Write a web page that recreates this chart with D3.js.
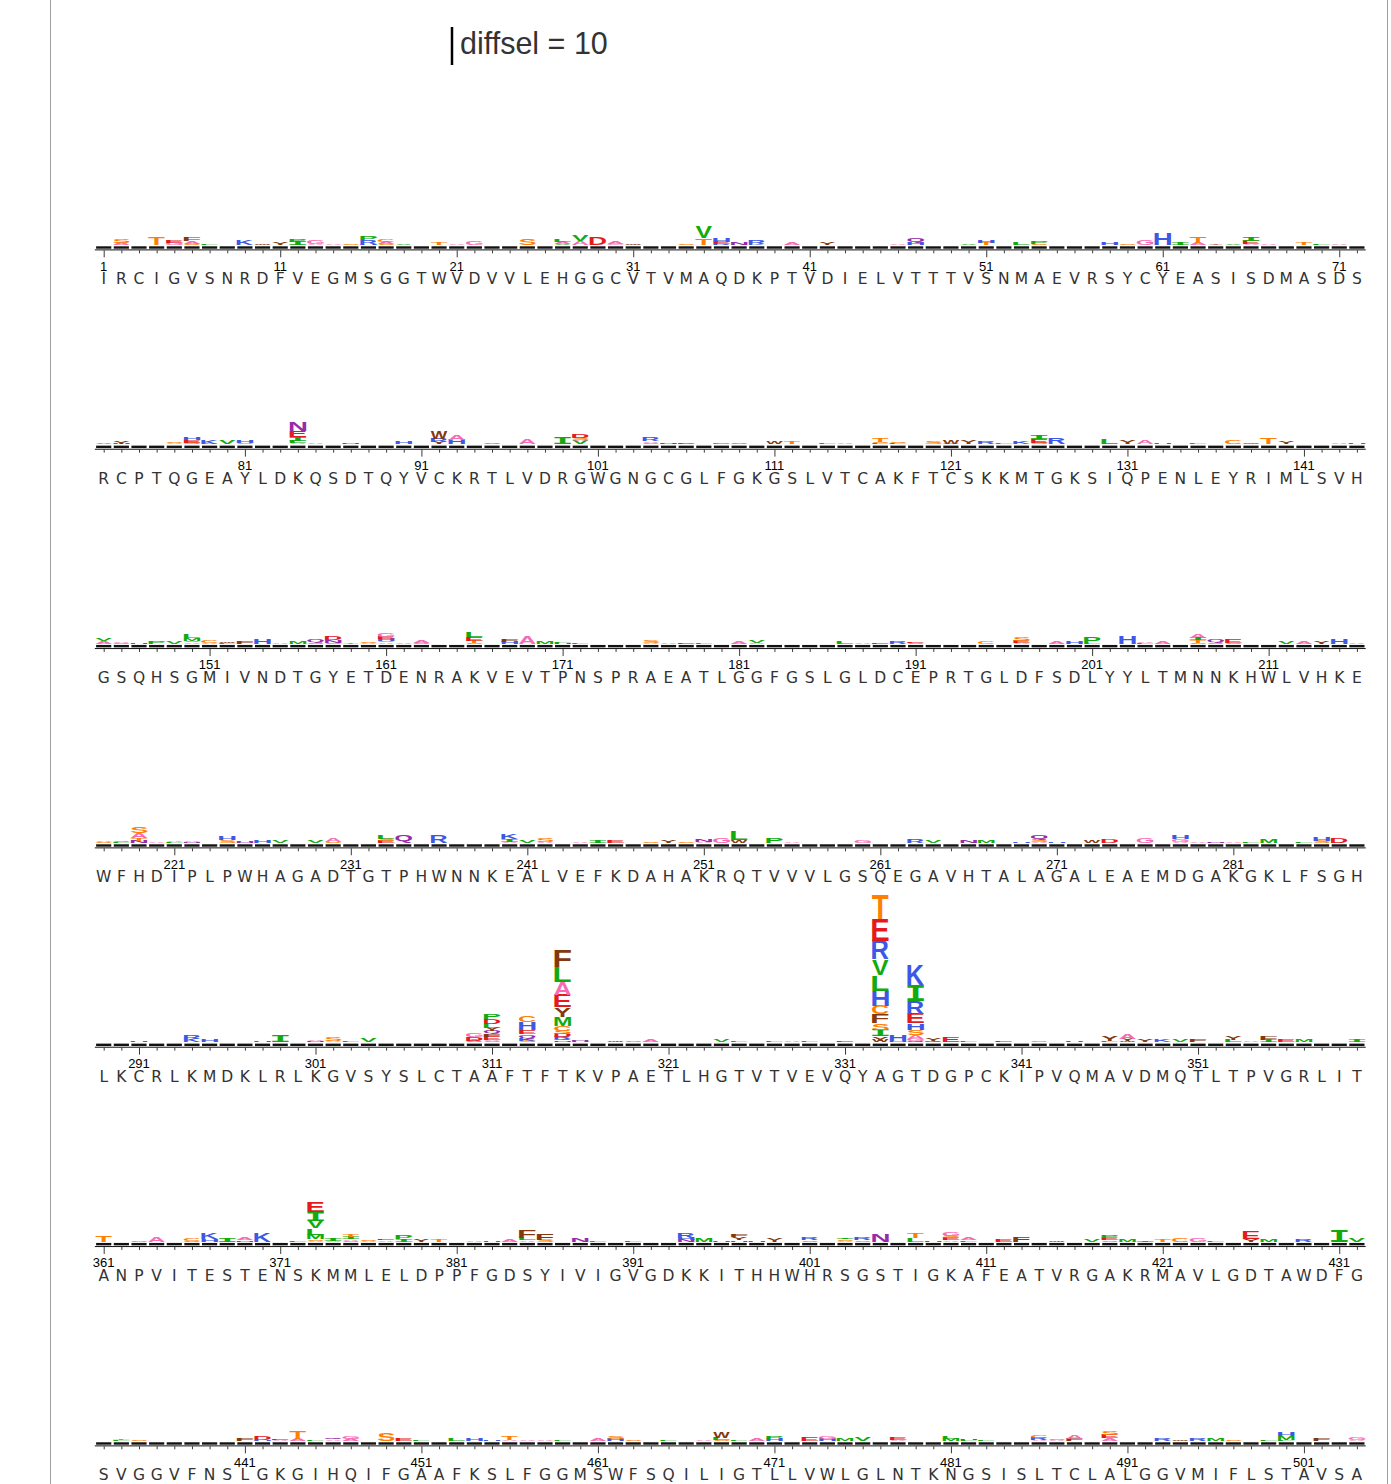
<!DOCTYPE html>
<html><head><meta charset="utf-8">
<script src="https://cdn.jsdelivr.net/npm/d3@7"></script>
<style>body{margin:0;background:#fff}</style>
</head><body>
<svg id="chart" width="1391" height="1484"></svg>
<script>
// ---------------- DATA ----------------
const titleText = "diffsel = 10";
const scaleBarValue = 10;
const rowStarts = [1, 73, 145, 217, 289, 361, 433];
const wildtypeRows = [
  "IRCIGVSNRDFVEGMSGGTWVDVVLEHGGCVTVMAQDKPTVDIELVTTTVSNMAEVRSYCYEASISDMASDS",
  "RCPTQGEAYLDKQSDTQYVCKRTLVDRGWGNGCGLFGKGSLVTCAKFTCSKKMTGKSIQPENLEYRIMLSVH",
  "GSQHSGMIVNDTGYETDENRAKVEVTPNSPRAEATLGGFGSLGLDCEPRTGLDFSDLYYLTMNNKHWLVHKE",
  "WFHDIPLPWHAGADTGTPHWNNKEALVEFKDAHAKRQTVVVLGSQEGAVHTALAGALEAEMDGAKGKLFSGH",
  "LKCRLKMDKLRLKGVSYSLCTAAFTFTKVPAETLHGTVTVEVQYAGTDGPCKIPVQMAVDMQTLTPVGRLIT",
  "ANPVITESTENSKMMLELDPPFGDSYIVIGVGDKKITHHWHRSGSTIGKAFEATVRGAKRMAVLGDTAWDFG",
  "SVGGVFNSLGKGIHQIFGAAFKSLFGGMSWFSQILIGTLLVWLGLNTKNGSISLTCLALGGVMIFLSTAVSA"
];
// each entry: "site letter+height ..." letters listed bottom -> top, heights in diffsel units
const stacksRow1 = ["2 A0.5 S0.9","4 T2.1","5 G0.5 E0.6","6 S0.4 A0.7 F0.9","7 L0.3","9 K1.2","10 W0.3","11 Y0.6",
  "12 I0.9 P0.6","13 A0.3 G1.1","14 A0.2","15 S0.3","16 H0.4 R1.0 P1.1","17 S0.2 A0.5 C0.8","18 V0.3","20 T0.5",
  "21 A0.3","22 G1.1","25 S1.6","27 V0.3 A0.5 L0.6","28 A1.0 V1.75","29 D2.0","30 G0.3 A0.5","31 W0.4","34 S0.3",
  "35 T1.75 V2.9","36 R0.3 E0.5 H1.0","37 N0.5","38 K0.2 R1.1","40 A0.8","42 Y0.5","46 A0.3","47 H0.7 Q1.1","50 V0.3",
  "51 T0.5 H0.6","53 L0.6","54 S0.4 P0.6","58 H0.8","59 S0.3","60 G1.4","61 H2.9","62 I0.7","63 A0.5 T1.6","64 Y0.4",
  "65 V0.4","66 A0.3 E0.9 I1.1","67 A0.2","69 T0.6","70 L0.4","71 A0.4"];
const stacksRow2 = ["73 V0.2","74 H0.2 Y0.6","77 A0.3 S0.3","78 S0.5 E0.65 H0.8","79 V0.2 K0.9","80 V0.8","81 S0.3 H0.8",
  "84 A0.4 L0.6 I0.9 E1.6 N2.3","85 A0.4","87 N0.4","90 H0.8","92 Y0.6 R0.9 W2.0","93 H1.2 A1.3","95 S0.2 A0.3","97 A1.3",
  "99 I1.8","100 V0.8 A0.4 S0.5 D0.9","104 S0.4 A0.4 R0.9","105 H0.2 N0.2","106 A0.2 E0.3","108 L0.2 S0.3","109 A0.2 S0.3",
  "111 W0.7","112 T0.6","114 L0.3","115 A0.3","117 L0.3 S0.4 T1.1","118 L0.4 S0.4","120 S0.6","121 S0.2 W1.0","122 Y0.9",
  "123 R0.7","124 L0.3","125 K0.7","126 S0.5 E0.8 I1.05","127 R1.6","130 L1.4","131 Y0.9","132 A1.0","133 H0.3","135 L0.3",
  "137 C1.1","138 W0.2 S0.3","139 T1.8","140 Y0.8","143 A0.4","144 H0.3"];
const stacksRow3 = ["145 A0.7 V0.5","146 S0.2 A0.4","147 H0.3","148 P0.6","149 V0.6","150 A0.4 V0.4 M0.6 L1.0","151 A0.2 C0.8",
  "152 L0.2 W0.3","153 F0.6","154 H1.3","155 A0.2","156 M0.8","157 S0.3 Q0.8","158 S0.3 N0.6 D0.9","159 T0.4","160 A0.2 S0.2",
  "161 A0.4 S0.4 H0.5 E0.5 G1.1","162 A0.4","163 S0.2 A0.7","166 S0.3 T0.5 E1.1 L1.3","168 H0.5 F0.7","169 A2.0","170 M0.6",
  "171 H0.2 L0.2","172 L0.2","176 A0.2 S0.5","177 A0.3","178 E0.3","179 L0.2","181 A0.5","182 A0.2 V0.5","187 L0.6",
  "188 A0.2","189 E0.4","190 R0.6","191 S0.2 E0.4","195 C0.6","197 A0.3 E0.5 S0.9","199 A0.6","200 H0.8","201 L0.2 P1.6",
  "203 H2.1","204 L0.3 A0.4","205 A0.8","207 S0.3 T0.6 I0.7 A1.0","208 S0.2 Q0.9","209 S0.3 E0.8","212 V0.5","213 A0.6",
  "214 Y0.6","215 H1.2","216 A0.2"];
const stacksRow4 = ["217 S0.2 A0.2","218 L0.2 S0.4","219 N0.5 T0.8 A1.3 S1.6","220 A0.3","221 L0.2 A0.2","222 N0.2 A0.2",
  "224 S0.7 H0.9","225 N0.3 H0.4","226 H0.6","227 V0.6","229 V0.7","230 S0.2 A0.9","233 E0.5 S0.5 L1.1","234 Q2.0","236 R2.1",
  "240 A0.3 I0.7 K1.3","241 V0.5","242 A0.2 S0.9","244 A0.3","245 I0.8","246 E0.5","248 S0.4","249 Y0.6","250 S0.3",
  "251 A0.2 N0.6","252 G1.3","253 W0.8 L2.2","255 P1.3","256 A0.2","260 G0.5","263 R0.9","264 V0.6","266 N0.8","267 M0.8",
  "269 H0.3","270 A0.3 S0.6 Q1.2","271 H0.3","273 W0.5","274 D1.0","276 G1.2","278 A0.3 G0.8 H1.0","279 A0.4","280 N0.3",
  "281 A0.3","282 L0.3","283 M0.9","285 L0.3","286 S0.5 H0.9","287 D1.2"];
const stacksRow5 = ["291 H0.4","294 K0.9 R1.1","295 H0.5","298 H0.3","299 I1.8","301 N0.3 A0.3","302 A0.4 S0.9","303 L0.3",
  "304 V0.8","310 A0.5 D0.9 G1.0","311 S0.35 A0.35 E0.8 F0.7 Q0.7 Y0.9 L1.05 D1.4 P1.3",
  "313 S0.5 K0.5 Q0.7 G0.45 E1.1 H2.0 C1.75","315 N0.4 Q0.5 R0.5 D0.8 S0.9 C1.3 M2.4 Y2.4 E3.2 A3.5 L3.9 F4.5",
  "316 H0.3 N0.4","318 W0.4","319 S0.4","320 A0.5","324 V0.7","325 L0.3","327 L0.3","328 A0.2","329 L0.3","331 E0.4",
  "333 W0.5 Y1.1 I1.7 S1.85 F2.2 C2.3 H4.0 L4.05 V4.15 R4.9 E5.8 T6.3","334 N0.3 H1.6",
  "335 Q0.4 G0.5 A1.1 S1.2 H1.8 E2.5 R3.4 I4.2 K5.6","336 Q0.5 Y0.8","337 E1.2","338 L0.3","340 E0.4","342 S0.3",
  "344 H0.4","346 L0.3 Y1.2","347 W0.4 Y0.5 A1.3","348 Y0.6","349 K0.6","350 V0.7","351 F0.8","353 L0.6 Y0.9","354 A0.3",
  "355 I0.6 F0.9","356 E0.6","357 M0.5","360 I0.6"];
const stacksRow6 = ["361 T1.7","363 S0.3","364 A1.4","366 S0.2 C0.6","367 H0.6 K1.5","368 I0.9","369 N0.4 A0.5","370 K2.2",
  "372 L0.4","373 A0.3 S0.3 M1.2 L1.7 V1.9 I2.3 E2.6","374 A0.3 I0.5","375 S0.3 A0.4 I0.6 T0.5","376 A0.2 S0.3",
  "377 A0.4 E0.4","378 I0.6 P1.0","379 Y0.7","380 T0.5","382 A0.2","383 H0.2","384 A0.6","385 A0.4 L0.5 F1.9",
  "386 S0.5 F1.75","388 N0.9","389 L0.2","391 L0.4","394 N0.5 H0.5 R1.4","395 M0.9","396 H0.3","397 H0.4 Y0.8 F0.8",
  "398 H0.3","399 Y0.9","401 S0.4 R0.5","403 A0.3 S0.3 I0.4","404 S0.4 R0.8","405 N1.9","407 L1.0 T1.2","408 H0.3",
  "409 A0.4 E0.5 S0.6 G1.0","410 L0.4 A0.5","412 E0.5","413 F1.3","415 W0.3","417 V0.6","418 S0.4 E0.7 P0.8","419 M0.5",
  "420 I0.4","421 T0.5","422 C0.9","423 G0.9","424 L0.3","426 Y0.8 E2.1","427 M0.6","429 R0.6","431 I2.9","432 V0.9"];
const stacksRow7 = ["434 L0.3 T0.4","435 S0.3","441 F0.6","442 H0.3 D0.8","443 A0.3 E0.3","444 A0.5 T2.1","445 L0.3",
  "446 A0.3 Q0.6","447 A0.5 G0.5","449 S2.0","450 E0.5","451 L0.3","453 L0.5","454 H0.6","455 H0.4","456 A0.4 T1.0",
  "457 A0.3","458 A0.3","459 L0.2","461 A0.5","462 H0.5 S0.6","463 S0.3","465 L0.2","467 A0.4","468 S0.3 L0.5 W1.75",
  "469 L0.3","470 A0.8","471 H0.5 P0.8","473 E0.9","474 H0.6 G0.6","475 M0.8","476 V0.8","478 A0.4 E0.5","481 M0.6 L0.5",
  "482 L0.2 H0.3","483 L0.2","486 A0.3 R0.6 C0.7","487 A0.2 S0.3","488 F0.5 A0.9","490 A0.7 E0.9 S0.9","493 R0.6",
  "494 W0.3","495 R0.6","496 M0.7","497 S0.3","499 L0.2","500 L0.4 M0.9 H1.05","502 F0.6","504 A0.4 G0.5"];
const stackRows = [stacksRow1, stacksRow2, stacksRow3, stacksRow4, stacksRow5, stacksRow6, stacksRow7];

const aaColors = {A:'#f76ab4',G:'#f76ab4',S:'#ff7f00',T:'#ff7f00',C:'#ff7f00',V:'#12ab0d',L:'#12ab0d',I:'#12ab0d',
  M:'#12ab0d',P:'#12ab0d',F:'#84380b',W:'#84380b',Y:'#84380b',D:'#e41a1c',E:'#e41a1c',N:'#972aa8',Q:'#972aa8',
  H:'#3c58e5',K:'#3c58e5',R:'#3c58e5'};

// ---------------- LAYOUT ----------------
const sitesPerRow = 72;
const xLeft = 103.7, xRight = 1356.9;
const firstBase = 246.3, rowGap = 199.33;
const svg = d3.select('#chart');

const hScale = d3.scaleLinear().domain([0, 10]).range([0, 38]);
const step = (xRight - xLeft) / (sitesPerRow - 1);
const letterW = step * 0.94;
const dashW = step * 0.86;

// frame
svg.append('line').attr('x1',50.5).attr('x2',50.5).attr('y1',0).attr('y2',1484).attr('stroke','#a0a0a0').attr('stroke-width',1);
svg.append('line').attr('x1',1387.5).attr('x2',1387.5).attr('y1',0).attr('y2',1484).attr('stroke','#a0a0a0').attr('stroke-width',1);

// title / scale bar
svg.append('line').attr('x1',452).attr('x2',452).attr('y1',65).attr('y2',65 - hScale(scaleBarValue))
  .attr('stroke','#000').attr('stroke-width',2.5);
svg.append('text').attr('x',460).attr('y',54).text(titleText)
  .attr('font-family',"'Liberation Sans', Arial, sans-serif").attr('font-size',30.5).attr('fill','#333');

// glyph ink measurement
const cv = document.createElement('canvas'); cv.width = 400; cv.height = 300;
const ctx = cv.getContext('2d');
const inkCache = {};
function famFor(ch){ return ch === 'I' ? "'DejaVu Sans Mono'" : "'Liberation Sans'"; }
function ink(ch){
  if (inkCache[ch]) return inkCache[ch];
  const fam = famFor(ch);
  ctx.font = `bold 100px ${fam}`;
  const m = ctx.measureText(ch);
  let r = {x0: -m.actualBoundingBoxLeft, x1: m.actualBoundingBoxRight, y0: -m.actualBoundingBoxAscent, y1: m.actualBoundingBoxDescent};
  if (!(r.x1 - r.x0 > 1) || !(r.y1 - r.y0 > 1)) r = {x0: 5, x1: 65, y0: -72, y1: 0};
  inkCache[ch] = r; return r;
}

function parseStack(s){
  const tok = s.trim().split(/\s+/);
  const site = +tok[0];
  const letters = tok.slice(1).map(t => ({aa: t[0], v: +t.slice(1)}));
  return {site, letters};
}

stackRows.forEach((rowData, r) => {
  const start = rowStarts[r];
  const base = firstBase + r * rowGap;
  const x = d3.scaleLinear().domain([start, start + sitesPerRow - 1]).range([xLeft, xRight]);
  const sites = d3.range(start, start + sitesPerRow);
  const g = svg.append('g');

  // letter stacks
  const stacks = rowData.map(parseStack);
  stacks.forEach(st => {
    let yTop = base - 1.2;
    st.letters.forEach(l => {
      const hh = hScale(l.v);
      yTop -= hh;
      const b = ink(l.aa);
      const sx = letterW / (b.x1 - b.x0), sy = hh / (b.y1 - b.y0);
      g.append('text').text(l.aa)
        .attr('font-family', famFor(l.aa)).attr('font-weight','bold').attr('font-size',100)
        .attr('fill', aaColors[l.aa])
        .attr('transform', `translate(${x(st.site) - letterW/2},${yTop}) scale(${sx},${sy}) translate(${-b.x0},${-b.y0})`);
    });
  });

  // black dashes per site
  g.selectAll('rect.dash').data(sites).join('rect').attr('class','dash')
    .attr('x', d => x(d) - dashW/2).attr('y', base).attr('width', dashW).attr('height', 2.4).attr('fill','#111');

  // axis line + ticks
  g.append('line').attr('x1', xLeft - step/2).attr('x2', xRight + step/2).attr('y1', base + 3.6).attr('y2', base + 3.6)
    .attr('stroke','#111').attr('stroke-width',1);
  const axisG = g.append('g').attr('transform', `translate(0,${base + 4})`)
    .call(d3.axisBottom(x).tickValues(sites).tickSize(3).tickSizeOuter(0).tickFormat(''));
  axisG.select('.domain').remove();
  axisG.selectAll('.tick line').attr('stroke','#222').attr('stroke-width',0.9)
    .attr('y2', d => (d % 10 === 1 ? 7 : 3));

  // site number labels
  g.selectAll('text.num').data(sites.filter(d => d % 10 === 1)).join('text').attr('class','num')
    .attr('x', d => x(d)).attr('y', base + 24.5).attr('text-anchor','middle')
    .attr('font-family',"'Liberation Sans', Arial, sans-serif").attr('font-size',13).attr('fill','#000').text(d => d);

  // wildtype letters
  g.selectAll('text.wt').data(sites).join('text').attr('class','wt')
    .attr('x', d => x(d)).attr('y', base + 38).attr('text-anchor','middle')
    .attr('font-family',"'DejaVu Sans', sans-serif").attr('font-size',15.5).attr('fill','#333')
    .text(d => wildtypeRows[r][d - start]);
});
</script>
</body></html>
